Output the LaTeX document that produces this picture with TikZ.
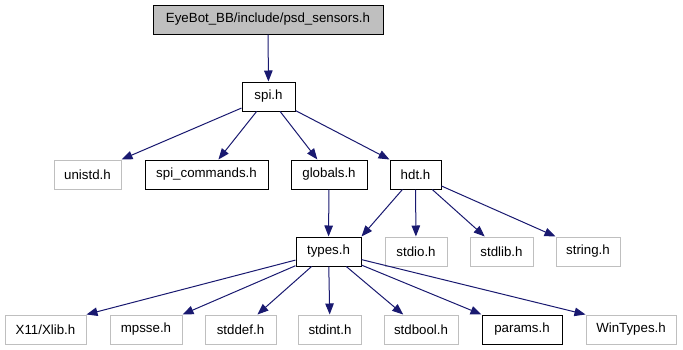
\documentclass[tikz,border=0pt]{standalone}
\usepackage{fontspec}
\setmainfont{Liberation Sans}
\usetikzlibrary{arrows.meta}
\definecolor{edgeblue}{RGB}{25,25,112}
\definecolor{boxgrey}{RGB}{191,191,191}

\begin{document}
\begin{tikzpicture}[x=1pt,y=-1pt]
	\tikzstyle{every node}+=[inner sep=0pt, minimum height=29pt, font=\fontsize{13.3}{16}\selectfont]
	\tikzstyle{doc}=[draw=black, line width=1pt]
	\tikzstyle{sys}=[draw=boxgrey, line width=1pt]
	\tikzstyle{dep}=[draw=edgeblue, line width=1pt, -{Triangle[length=11pt,width=8.5pt]}]
	\useasboundingbox (0,0) rectangle (683,349);
	% top file and its direct include
	\node [doc, fill=boxgrey, minimum width=230pt] (psd) at (268,19.5) {EyeBot\_BB/include/psd\_sensors.h};
	\node [doc, minimum width=53pt] (spi) at (268.5,96.5) {spi.h};
	% second row
	\node [sys, minimum width=67pt] (unistd) at (87.5,174.5) {unistd.h};
	\node [doc, minimum width=123pt] (spicmd) at (206.5,174.5) {spi\_commands.h};
	\node [doc, minimum width=76pt] (globals) at (329,174.5) {globals.h};
	\node [doc, minimum width=51pt] (hdt) at (415.5,174.5) {hdt.h};
	% third row
	\node [doc, minimum width=65pt] (types) at (328.5,251.5) {types.h};
	\node [sys, minimum width=62pt] (stdio) at (416,251.5) {stdio.h};
	\node [sys, minimum width=63pt] (stdlib) at (501.5,251.5) {stdlib.h};
	\node [sys, minimum width=64pt] (string) at (588,251.5) {string.h};
	% bottom row
	\node [sys, minimum width=81pt] (xlib) at (45.5,329.5) {X11/Xlib.h};
	\node [sys, minimum width=72pt] (mpsse) at (146,329.5) {mpsse.h};
	\node [sys, minimum width=71pt] (stddef) at (240.5,329.5) {stddef.h};
	\node [sys, minimum width=63pt] (stdint) at (330,329.5) {stdint.h};
	\node [sys, minimum width=74pt] (stdbool) at (421,329.5) {stdbool.h};
	\node [doc, minimum width=80pt] (params) at (522,329.5) {params.h};
	\node [sys, minimum width=90pt] (wintypes) at (631,329.5) {WinTypes.h};
	% includes
	\draw [dep] (psd) -- (spi);
	\draw [dep] (spi) -- (unistd.north east);
	\draw [dep] (spi) -- (spicmd);
	\draw [dep] (spi) -- (globals);
	\draw [dep] (spi) -- (hdt.north west);
	\draw [dep] (globals) -- (types);
	\draw [dep] (hdt) -- (types.north east);
	\draw [dep] (hdt) -- (stdio);
	\draw [dep] (hdt) -- (stdlib);
	\draw [dep] (hdt) -- (string.north west);
	\draw [dep] (types) -- (xlib.north east);
	\draw [dep] (types) -- (mpsse.north east);
	\draw [dep] (types) -- (stddef);
	\draw [dep] (types) -- (stdint);
	\draw [dep] (types) -- (stdbool);
	\draw [dep] (types) -- (params.north west);
	\draw [dep] (types) -- (wintypes.north west);
\end{tikzpicture}
\end{document}
